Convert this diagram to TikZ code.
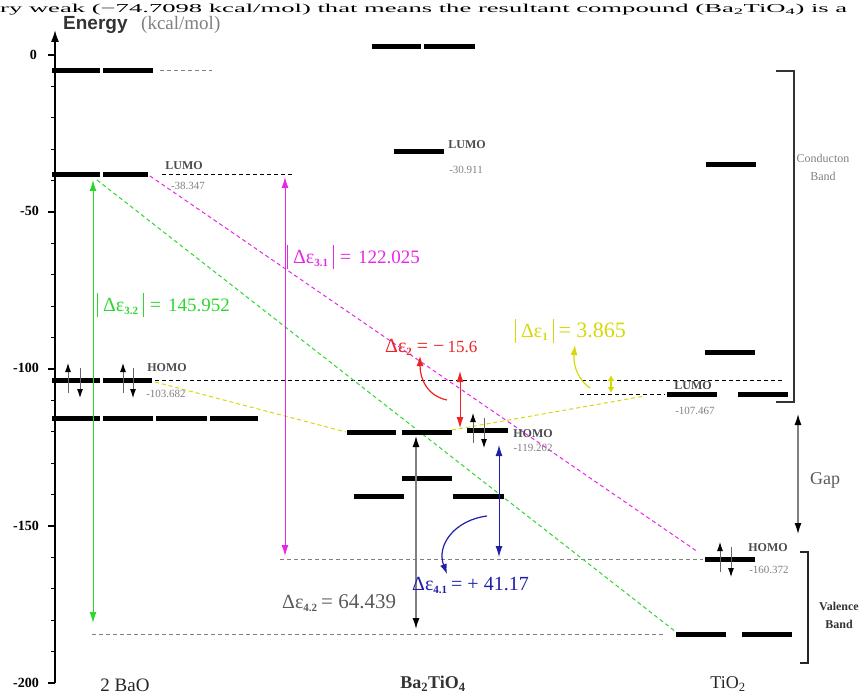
\documentclass[tikz,border=0pt]{standalone}
\usepackage{fontspec}
\setmainfont{Liberation Serif}
\newfontfamily\sansf{Liberation Sans}
\usetikzlibrary{arrows.meta}
\definecolor{cgreen}{RGB}{45,215,45}
\definecolor{cmag}{RGB}{230,40,230}
\definecolor{cred}{RGB}{235,35,35}
\definecolor{cyel}{RGB}{215,215,10}
\definecolor{cblue}{RGB}{30,30,170}
\definecolor{cgray}{RGB}{90,90,90}
\newcommand\lvbar[3]{\draw[lvl] (#2,#1) -- (#3,#1);}
\newcommand\absbar{\rule[-6pt]{0.8pt}{24pt}}
\newcommand\dEps[1]{{\fontsize{20}{20}\selectfont Δε}\raisebox{-3pt}{\fontsize{11}{11}\selectfont\bfseries #1}}
\newcommand\fs[2]{{\fontsize{#1}{#1}\selectfont #2}}
\begin{document}
\begin{tikzpicture}[x=1pt,y=-1pt,
  lvl/.style={line width=5pt},
  dsh/.style={dash pattern=on 4pt off 3pt, line width=1pt},
  darr/.style={{Latex[length=11pt,width=7pt]}-{Latex[length=11pt,width=7pt]}, line width=1pt},
  garr/.style={{Latex[length=11pt,width=7pt,black]}-{Latex[length=11pt,width=7pt,black]}, line width=1.3pt, gray},
  el/.style={-{Latex[length=9pt,width=6pt,black]}, line width=0.9pt, black!60},
  carr/.style={-{Latex[length=10pt,width=7pt]}, line width=1.2pt},
  small/.style={font=\fontsize{12}{12}\selectfont\bfseries, inner sep=0pt, text=black!70},
  val/.style={font=\fontsize{11}{11}\selectfont, inner sep=0pt, text=gray},
  tick/.style={font=\fontsize{14}{14}\selectfont\bfseries, inner sep=0pt, anchor=east},
  dlab/.style={inner sep=0pt, anchor=west}]
\useasboundingbox (0,0) rectangle (867,695);
\node[anchor=base west, inner sep=0pt] (toptext) at (0,13)
  {\scalebox{1.21}[0.55]{\fs{22}{ry weak (−74.7098 kcal/mol) that means the resultant compound (Ba\textsubscript{2}TiO\textsubscript{4}) is a}}};

% axis
\coordinate (axb) at (55,683);
\coordinate (axt) at (55,30);
\draw[line width=1.6pt, -{Latex[length=12pt,width=8pt]}] (axb) -- (axt);
\foreach \k in {0,...,20}{
  \pgfmathsetmacro\yy{55+31.4*\k}
  \ifnum\k=0 \draw[line width=1.2pt] (55,\yy) -- (48,\yy);
  \else\ifnum\k=5 \draw[line width=1.2pt] (55,\yy) -- (48,\yy);
  \else\ifnum\k=10 \draw[line width=1.2pt] (55,\yy) -- (48,\yy);
  \else\ifnum\k=15 \draw[line width=1.2pt] (55,\yy) -- (48,\yy);
  \else\ifnum\k=20 \draw[line width=1.2pt] (55,\yy) -- (48,\yy);
  \else \draw[line width=1pt] (55,\yy) -- (51,\yy);
  \fi\fi\fi\fi\fi}
\node[tick] (t0) at (37,55) {0};
\node[tick] (t50) at (39,211) {-50};
\node[tick] (t100) at (39,368) {-100};
\node[tick] (t150) at (39,526) {-150};
\node[tick] (t200) at (39,683) {-200};
\node[anchor=base west, inner sep=0pt, font=\sansf\fontsize{19}{19}\selectfont\bfseries, text=black!80] (en) at (63,30) {Energy};
\node[anchor=base west, inner sep=0pt, font=\fontsize{19}{19}\selectfont, text=gray] (unit) at (141,30) {(kcal/mol)};

% ---------- dashed guide lines
\coordinate (d0a) at (160,71);  \coordinate (d0b) at (212,71);
\draw[dsh, gray] (d0a) -- (d0b);
\coordinate (dLa) at (162,175); \coordinate (dLb) at (292,175);
\draw[dsh] (dLa) -- (dLb);
\coordinate (dHa) at (155,380); \coordinate (dHb) at (782,380);
\draw[dsh] (dHa) -- (dHb);
\coordinate (dTa) at (580,394); \coordinate (dTb) at (665,394);
\draw[dsh] (dTa) -- (dTb);
\coordinate (dVa) at (280,559); \coordinate (dVb) at (703,559);
\draw[dsh, gray] (dVa) -- (dVb);
\coordinate (dBa) at (92,634); \coordinate (dBb) at (663,634);
\draw[dsh, gray] (dBa) -- (dBb);

% coloured correlation lines
\coordinate (g1) at (97,180);  \coordinate (g2) at (676,632);
\draw[dsh, cgreen] (g1) -- (g2);
\coordinate (m1) at (150,176); \coordinate (m2) at (698,552);
\draw[dsh, cmag] (m1) -- (m2);
\coordinate (y1) at (155,382); \coordinate (y2) at (346,432);
\draw[dsh, cyel] (y1) -- (y2);
\coordinate (y3) at (452,430); \coordinate (y4) at (645,396);
\draw[dsh, cyel] (y3) -- (y4);

% ---------- levels: 2 BaO
\lvbar{71}{52}{100}\lvbar{71}{103}{153}
\lvbar{175}{52}{100}\lvbar{175}{103}{148}
\lvbar{380}{52}{100}\lvbar{380}{103}{152}
\lvbar{418}{52}{100}\lvbar{418}{103}{153}\lvbar{418}{156}{207}\lvbar{418}{210}{258}
% Ba2TiO4
\lvbar{47}{372}{421}\lvbar{47}{424}{475}
\lvbar{152}{394}{444}
\lvbar{432}{347}{396}\lvbar{432}{402}{452}\lvbar{430}{467}{508}
\lvbar{478}{402}{452}
\lvbar{496}{354}{404}\lvbar{496}{453}{504}
% TiO2
\lvbar{165}{706}{756}
\lvbar{352}{705}{755}
\lvbar{394}{667}{717}\lvbar{394}{738}{788}
\lvbar{559}{705}{755}
\lvbar{634}{676}{726}\lvbar{634}{742}{792}

% ---------- electron arrows
\foreach \xu/\xd/\yy/\nm in {68/80/380/a,123/133/380/b,473/484/430/c,720/731/559/d}{
  \coordinate (eu1\nm) at (\xu,\yy+13); \coordinate (eu2\nm) at (\xu,\yy-17);
  \coordinate (ed1\nm) at (\xd,\yy-12); \coordinate (ed2\nm) at (\xd,\yy+18);
  \draw[el] (eu1\nm) -- (eu2\nm);
  \draw[el] (ed1\nm) -- (ed2\nm);
}

% ---------- level labels
\node[small] (bl) at (184,166) {LUMO};
\node[val] (blv) at (188,186) {-38.347};
\node[small] (bh) at (167,368) {HOMO};
\node[val] (bhv) at (166,394) {-103.682};
\node[small] (tl) at (467,145) {LUMO};
\node[val] (tlv) at (466,170) {-30.911};
\node[small] (th) at (533,434) {HOMO};
\node[val] (thv) at (533,448) {-119.202};
\node[small] (ol) at (693,386) {LUMO};
\node[val] (olv) at (695,411) {-107.467};
\node[small] (oh) at (768,548) {HOMO};
\node[val] (ohv) at (769,570) {-160.372};

% ---------- energy-difference arrows
\coordinate (ga1) at (93,180);  \coordinate (ga2) at (93,623);
\draw[darr, cgreen] (ga1) -- (ga2);
\coordinate (ma1) at (285,177); \coordinate (ma2) at (285,556);
\draw[darr, cmag] (ma1) -- (ma2);
\coordinate (ra1) at (460,371); \coordinate (ra2) at (460,428);
\draw[darr, cred] (ra1) -- (ra2);
\coordinate (ka1) at (416,436); \coordinate (ka2) at (416,629);
\draw[garr] (ka1) -- (ka2);
\coordinate (ua1) at (499,445); \coordinate (ua2) at (499,557);
\draw[darr, cblue] (ua1) -- (ua2);
\coordinate (ya1) at (611,375); \coordinate (ya2) at (611,393);
\draw[{Latex[length=6pt,width=7pt]}-{Latex[length=6pt,width=7pt]}, line width=1.2pt, cyel] (ya1) -- (ya2);
\coordinate (gp1) at (798,414); \coordinate (gp2) at (798,534);
\draw[garr] (gp1) -- (gp2);

% curved arrows
\coordinate (rc1) at (447,400); \coordinate (rc2) at (420,356);
\draw[carr, cred] (rc1) .. controls (428,396) and (420,380) .. (rc2);
\coordinate (bc1) at (487,516); \coordinate (bc2) at (447,574);
\draw[carr, cblue] (bc1) .. controls (455,520) and (436,545) .. (bc2);
\coordinate (yc1) at (590,388); \coordinate (yc2) at (575,345);
\draw[carr, cyel] (yc1) .. controls (578,380) and (573,365) .. (yc2);

% ---------- difference labels
\node[dlab, text=cgreen] (lg) at (97,305)
  {\absbar\hspace{5pt}\dEps{3.2}\hspace{5pt}\absbar\hspace{6pt}\fs{20}{=}\hspace{7pt}\fs{19}{145.952}};
\node[dlab, text=cmag] (lm) at (287,257)
  {\absbar\hspace{5pt}\dEps{3.1}\hspace{5pt}\absbar\hspace{6pt}\fs{20}{=}\hspace{7pt}\fs{19}{122.025}};
\node[dlab, text=cred] (lr) at (385,347)
  {\dEps{2}\hspace{5pt}\fs{20}{= −}\hspace{3pt}\fs{17}{15.6}};
\node[dlab, text=cyel] (ly) at (515,331)
  {\absbar\hspace{5pt}\dEps{1}\hspace{5pt}\absbar\hspace{5pt}\fs{22}{= 3.865}};
\node[dlab, text=cblue] (lb) at (412,585)
  {\dEps{4.1}\hspace{4pt}\fs{20}{= + 41.17}};
\node[dlab, text=cgray] (lk) at (282,603)
  {\dEps{4.2}\hspace{4pt}\fs{21}{= 64.439}};

% ---------- bands
\coordinate (cb1) at (776,71); \coordinate (cb2) at (794,71);
\coordinate (cb3) at (794,402); \coordinate (cb4) at (776,402);
\draw[line width=1.2pt, black!80] (cb1) -- (cb2) -- (cb3) -- (cb4);
\node[inner sep=0pt, align=center, text=gray, font=\fontsize{12}{18}\selectfont] (cbl) at (823,167) {Conducton\\Band};
\coordinate (vb1) at (800,552); \coordinate (vb2) at (808,552);
\coordinate (vb3) at (808,663); \coordinate (vb4) at (800,663);
\draw[line width=1.2pt, black!85] (vb1) -- (vb2) -- (vb3) -- (vb4);
\node[inner sep=0pt, align=center, font=\fontsize{12}{18}\selectfont\bfseries, text=black!80] (vbl) at (839,615) {Valence\\Band};
\node[inner sep=0pt, text=cgray, font=\fontsize{18}{18}\selectfont] (gap) at (825,480) {Gap};

% ---------- compound names
\node[inner sep=0pt, font=\fontsize{19}{19}\selectfont, text=black!85] (n1) at (125,685) {2 BaO};
\node[inner sep=0pt, font=\fontsize{18}{18}\selectfont\bfseries, text=black!80] (n2) at (433,684) {Ba\textsubscript{2}TiO\textsubscript{4}};
\node[inner sep=0pt, font=\fontsize{18}{18}\selectfont, text=black!85] (n3) at (728,684) {TiO\textsubscript{2}};
\end{tikzpicture}
\end{document}
